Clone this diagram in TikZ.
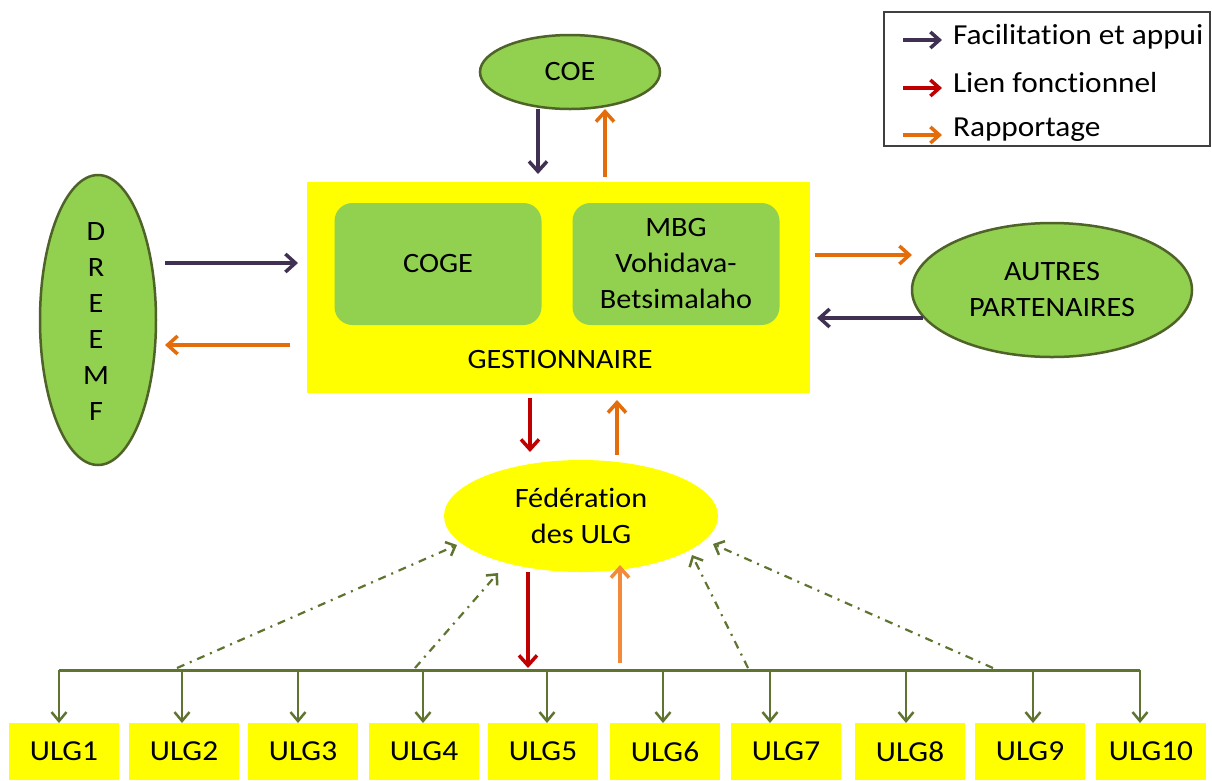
\documentclass[tikz,border=0pt]{standalone}
\usepackage{fontspec}
\setmainfont{Carlito}[FakeStretch=1.08, Ligatures=NoCommon]
\usetikzlibrary{arrows.meta,shapes.geometric}
\definecolor{cgreen}{HTML}{92D050}
\definecolor{cborder}{HTML}{4F6228}
\definecolor{cyel}{HTML}{FFFF00}
\definecolor{cpurp}{HTML}{403152}
\definecolor{cred}{HTML}{C00000}
\definecolor{corange}{HTML}{E46C0A}
\definecolor{corangel}{HTML}{F38A3A}
\definecolor{colive}{HTML}{5F7430}
\definecolor{clegend}{HTML}{404040}
\begin{document}
\begin{tikzpicture}[x=1pt,y=-1pt,
  every node/.style={font=\fontsize{28}{36}\selectfont, inner sep=0pt, outer sep=0pt},
  ell/.style={ellipse, draw=cborder, line width=2.5pt, fill=cgreen},
  inbox/.style={rounded corners=18pt, fill=cgreen, minimum width=207pt, minimum height=122pt, align=center},
  ulgbox/.style={fill=cyel, minimum width=110pt, minimum height=57pt, font=\fontsize{29}{34}\selectfont},
  arrbase/.style={line width=3.5pt, -{Straight Barb[length=10pt,width=18pt,line width=3.5pt]}},
  arrp/.style={arrbase, draw=cpurp},
  arrr/.style={arrbase, draw=cred},
  arro/.style={arrbase, draw=corange},
  arrol/.style={arrbase, draw=corangel},
  ulgarr/.style={line width=2.2pt, draw=colive, -{Straight Barb[length=9pt,width=15pt,line width=2.5pt]}},
  dasharr/.style={line width=2.2pt, draw=colive, dash pattern=on 8pt off 6pt on 2pt off 6pt, -{Straight Barb[length=8pt,width=15pt,line width=2.5pt]}},
  legarr/.style={line width=3.5pt, -{Straight Barb[length=9pt,width=16pt,line width=3.5pt]}},
  legtext/.style={anchor=west, font=\fontsize{29}{34}\selectfont}
]
\useasboundingbox[fill=white] (0,0) rectangle (1212,780);

% legend
\node[draw=clegend, line width=1.5pt, minimum width=326pt, minimum height=134pt] (legend) at (1047,79) {};
\coordinate (l1s) at (903,40); \coordinate (l1e) at (942,40);
\coordinate (l2s) at (903,88); \coordinate (l2e) at (942,88);
\coordinate (l3s) at (903,135); \coordinate (l3e) at (942,135);
\draw[legarr, draw=cpurp] (l1s) -- (l1e);
\draw[legarr, draw=cred] (l2s) -- (l2e);
\draw[legarr, draw=corange] (l3s) -- (l3e);
\node[legtext] (t1) at (953,37) {Facilitation et appui};
\node[legtext] (t2) at (953,83) {Lien fonctionnel};
\node[legtext] (t3) at (953,130) {Rapportage};

% COE
\node[ell, minimum width=180pt, minimum height=74pt] (coe) at (570,72) {COE};

% Gestionnaire
\node[fill=cyel, minimum width=503pt, minimum height=211pt] (gest) at (558.5,287.5) {};
\node[inbox] (coge) at (438,264) {COGE};
\node[inbox] (mbg) at (676,264) {MBG\\Vohidava-\\Betsimalaho};
\node (gestlabel) at (560,360) {GESTIONNAIRE};

% DREEMF
\node[ell, minimum width=116pt, minimum height=290pt] (dreemf) at (98,320) {};
\node[align=center] (dreemftext) at (96,322) {D\\R\\E\\E\\M\\F};

% Autres partenaires
\node[ell, minimum width=280pt, minimum height=134pt, align=center] (autres) at (1052,290) {AUTRES\\PARTENAIRES};

% Federation
\node[ellipse, fill=cyel, minimum width=274pt, minimum height=112pt, align=center] (fed) at (581,516) {F\'ed\'eration\\des ULG};

% ULG boxes
\foreach \i/\cx in {1/64,2/184,3/303,4/424,5/543,6/665,7/786,8/910,9/1030,10/1151} {
  \node[ulgbox] (u\i) at (\cx,751.5) {ULG\i};
}

% COE arrows
\coordinate (p1) at (538,174);
\coordinate (o1) at (605,177);
\draw[arrp] (p1 |- coe.south) -- (p1);
\draw[arro] (o1) -- (o1 |- coe.south);

% DREEMF arrows
\coordinate (p2s) at (165,263); \coordinate (p2e) at (298,263);
\coordinate (o2s) at (290,345); \coordinate (o2e) at (165,345);
\draw[arrp] (p2s) -- (p2e);
\draw[arro] (o2s) -- (o2e);

% Autres arrows
\coordinate (o3s) at (815,255); \coordinate (o3e) at (912,255);
\coordinate (p3s) at (923,318); \coordinate (p3e) at (817,318);
\draw[arro] (o3s) -- (o3e);
\draw[arrp] (p3s) -- (p3e);

% Gestionnaire <-> Federation
\coordinate (r1s) at (530,398); \coordinate (r1e) at (530,452);
\coordinate (o4s) at (617,455); \coordinate (o4e) at (617,400);
\draw[arrr] (r1s) -- (r1e);
\draw[arro] (o4s) -- (o4e);

% bus
\coordinate (busL) at (59,670);
\coordinate (busR) at (1140,670);
\draw[line width=3pt, draw=colive] (busL) -- (busR);
\foreach \i/\bx in {1/59,2/182,3/298,4/423,5/547,6/663,7/770,8/906,9/1033,10/1140} {
  \coordinate (b\i) at (\bx,670);
  \draw[ulgarr] (b\i) -- (b\i |- u\i.north);
}

% Federation <-> bus
\coordinate (r2s) at (528,572); \coordinate (r2e) at (528,668);
\coordinate (o5s) at (620,663); \coordinate (o5e) at (620,565);
\draw[arrr] (r2s) -- (r2e);
\draw[arrol] (o5s) -- (o5e);

% dash-dot arrows
\coordinate (d1s) at (177,668); \coordinate (d1e) at (457,545);
\coordinate (d2s) at (415,668); \coordinate (d2e) at (498,573);
\coordinate (d3s) at (748,668); \coordinate (d3e) at (692,555);
\coordinate (d4s) at (993,668); \coordinate (d4e) at (713,544);
\draw[dasharr] (d1s) -- (d1e);
\draw[dasharr] (d2s) -- (d2e);
\draw[dasharr] (d3s) -- (d3e);
\draw[dasharr] (d4s) -- (d4e);
\end{tikzpicture}
\end{document}
